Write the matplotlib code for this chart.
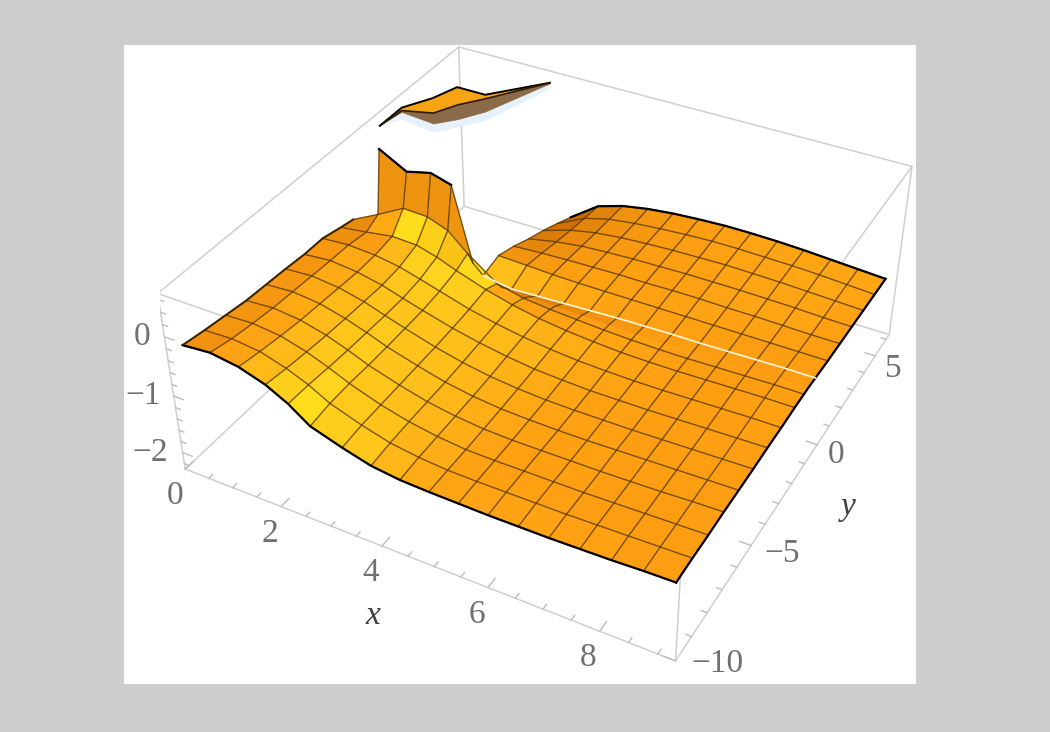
import numpy as np
import matplotlib
matplotlib.use('Agg')
import matplotlib.pyplot as plt
from matplotlib.colors import LinearSegmentedColormap
from matplotlib.patches import Rectangle
from mpl_toolkits.mplot3d import proj3d

nan = float('nan')

# values
x_nodes = [0.15, 0.71, 1.27, 1.78, 2.2, 2.6, 3.2, 3.74, 4.28, 4.82, 5.36, 5.9, 6.44, 6.98, 7.52, 8.06, 8.6, 9.14]
y_nodes = [-9.6, -8.6, -7.6, -6.6, -5.6, -4.6, -3.6, -2.6, -1.6, -0.9, -0.6, 0, 1, 2, 3, 4, 5, 6]
z_rows = [
    [-0.22, -0.18, -0.25, -0.39, -0.58, -0.83, -1.00, -1.13, -1.19, -1.21, -1.22, -1.23, -1.23, -1.23, -1.22, -1.21, -1.19, -1.18],
    [-0.28, -0.26, -0.31, -0.44, -0.59, -0.78, -0.96, -1.09, -1.16, -1.20, -1.21, -1.21, -1.21, -1.21, -1.20, -1.19, -1.18, -1.17],
    [-0.33, -0.31, -0.36, -0.48, -0.62, -0.77, -0.95, -1.07, -1.15, -1.20, -1.21, -1.21, -1.21, -1.21, -1.20, -1.19, -1.18, -1.17],
    [-0.38, -0.35, -0.40, -0.51, -0.64, -0.78, -0.94, -1.06, -1.14, -1.19, -1.21, -1.21, -1.21, -1.21, -1.20, -1.19, -1.17, -1.16],
    [-0.40, -0.37, -0.42, -0.53, -0.65, -0.78, -0.93, -1.05, -1.13, -1.18, -1.20, -1.21, -1.21, -1.20, -1.19, -1.18, -1.17, -1.16],
    [-0.42, -0.39, -0.44, -0.54, -0.66, -0.77, -0.92, -1.03, -1.11, -1.16, -1.19, -1.20, -1.20, -1.20, -1.19, -1.18, -1.17, -1.16],
    [-0.45, -0.41, -0.46, -0.55, -0.66, -0.76, -0.90, -1.00, -1.08, -1.14, -1.17, -1.19, -1.19, -1.19, -1.18, -1.17, -1.16, -1.15],
    [-0.45, -0.42, -0.45, -0.52, -0.62, -0.72, -0.87, -0.97, -1.05, -1.11, -1.15, -1.17, -1.18, -1.18, -1.17, -1.16, -1.15, -1.15],
    [-0.53, -0.47, -0.40, -0.42, -0.52, -0.65, -0.82, -0.94, -1.03, -1.09, -1.13, -1.16, -1.17, -1.17, -1.16, -1.15, -1.14, -1.14],
    [-0.58, -0.35, -0.10, -0.12, -0.25, -0.55, -0.92, -1.03, -1.08, -1.11, -1.14, -1.16, -1.17, -1.17, -1.16, -1.15, -1.14, -1.14],
    [nan, 0.70, 0.45, 0.55, 0.45, -0.80, -1.08, -1.10, -1.12, -1.13, -1.15, -1.16, -1.17, -1.17, -1.16, -1.15, -1.14, -1.14],
    [nan, nan, nan, nan, nan, -1.20, -1.28, -1.26, -1.24, -1.22, -1.20, -1.19, -1.18, -1.18, -1.17, -1.16, -1.15, -1.15],
    [nan, nan, nan, nan, nan, -1.12, -1.14, -1.16, -1.17, -1.17, -1.17, -1.17, -1.17, -1.17, -1.17, -1.17, -1.17, -1.17],
    [nan, nan, nan, nan, nan, -1.23, -1.20, -1.18, -1.17, -1.16, -1.16, -1.15, -1.15, -1.16, -1.16, -1.17, -1.18, -1.18],
    [nan, nan, nan, nan, nan, -1.37, -1.27, -1.21, -1.18, -1.16, -1.15, -1.14, -1.14, -1.14, -1.15, -1.16, -1.18, -1.19],
    [nan, nan, nan, nan, nan, -1.49, -1.33, -1.24, -1.19, -1.16, -1.14, -1.13, -1.12, -1.13, -1.14, -1.16, -1.18, -1.20],
    [nan, nan, nan, nan, nan, -1.63, -1.38, -1.26, -1.20, -1.16, -1.13, -1.11, -1.11, -1.12, -1.13, -1.15, -1.18, -1.21],
    [nan, nan, nan, nan, nan, -1.78, -1.42, -1.28, -1.20, -1.15, -1.12, -1.10, -1.10, -1.11, -1.13, -1.16, -1.19, -1.22],
]

# floating piece near the top of the box
frag_x = [0.28, 0.28, 0.6, 0.79, 1.4, 2.25]
frag_y = [0.6, 1.9, 2.9, 3.9, 3.9, 5.6]
frag_top = [0.7, 0.7, 0.7, 0.7, 0.7, 0.7]
frag_mid = [0.7, 0.65, 0.44, 0.39, 0.63, 0.7]
frag_low = [0.7, 0.62, 0.25, 0.13, 0.4, 0.68]
frag_glow = [0.7, 0.5, 0.1, 0.0, 0.25, 0.6]

x_ticks = [0, 2, 4, 6, 8]
y_ticks = [-10, -5, 0, 5]
z_ticks = [-2, -1, 0]
x_lim = (0, 9.3)
y_lim = (-10, 6.3)
z_lim = (-2.3, 0.7)

fig = plt.figure(figsize=(10.5, 7.32), dpi=100, facecolor='#cdcdcd')
fig.add_artist(Rectangle((124 / 1050, 1 - 684 / 732), 792 / 1050, 639 / 732,
                         transform=fig.transFigure, facecolor='white', edgecolor='none', zorder=-1))

# camera fitted to the box corners
ax = fig.add_axes([160.4 / 1050, 23.15 / 732, 765.7 / 1050, 765.7 / 732], projection='3d')
ax.set_axis_off()
ax.set_facecolor('none')
ax.computed_zorder = False
ax.set_xlim(*x_lim)
ax.set_ylim(*y_lim)
ax.set_zlim(*z_lim)
ax.view_init(36.43, -61.604)
ax.set_proj_type('persp', focal_length=0.445)
ax.set_box_aspect((0.939, 0.948, 0.375))

# box
box_color = '#cfcfcf'
for z in z_lim:
    ax.plot([x_lim[0], x_lim[1], x_lim[1], x_lim[0], x_lim[0]],
            [y_lim[0], y_lim[0], y_lim[1], y_lim[1], y_lim[0]], [z] * 5,
            color=box_color, lw=1.1, zorder=1)
for x in x_lim:
    for y in y_lim:
        ax.plot([x, x], [y, y], z_lim, color=box_color, lw=1.1, zorder=1)

# surface, each cell coloured from its slope
X, Y = np.meshgrid(x_nodes, y_nodes)
Z = np.array(z_rows)
dx = np.diff(x_nodes)[None, :]
dy = np.diff(y_nodes)[:, None]
gx = (Z[:-1, 1:] - Z[:-1, :-1] + Z[1:, 1:] - Z[1:, :-1]) / 2 / dx
gy = (Z[1:, :-1] - Z[:-1, :-1] + Z[1:, 1:] - Z[:-1, 1:]) / 2 / dy
shade = (-gx * 0.7 + gy * 0.85) / np.sqrt(gx ** 2 + gy ** 2 + 1)
cmap = LinearSegmentedColormap.from_list('mma', [
    (0.0, '#c96a04'), (0.35, '#ffa013'), (0.62, '#ffd51f'), (0.78, '#ffe21a'), (1.0, '#ee9410')])
face = cmap(np.clip(np.nan_to_num(shade) + 0.35, 0, 1))
face[np.isnan(shade), 3] = 0
surf = ax.plot_surface(X, Y, Z, rstride=1, cstride=1, facecolors=face, shade=False, zorder=2)
surf.set_linewidth(0.4)

# mesh lines; the two extra rows near the spike stop where the surface goes flat
mesh_color = (0.30, 0.20, 0.0, 0.75)
for j in range(len(x_nodes)):
    ax.plot(X[:, j], Y[:, j], Z[:, j], color=mesh_color, lw=1.0, zorder=3)
for i in range(len(y_nodes)):
    end = 6 if i == 10 else len(x_nodes)
    if i != 11:
        ax.plot(X[i, :end], Y[i, :end], Z[i, :end], color=mesh_color, lw=1.0, zorder=3)

# black outline
ax.plot(X[0], Y[0], Z[0], color='black', lw=1.6, zorder=4)
ax.plot(X[-1], Y[-1], Z[-1], color='black', lw=1.6, zorder=4)
ax.plot(X[:, -1], Y[:, -1], Z[:, -1], color='black', lw=1.6, zorder=4)
ax.plot(X[:10, 0], Y[:10, 0], Z[:10, 0], color='#3a2400', lw=1.4, zorder=4)
ax.plot(X[10, 1:5], Y[10, 1:5], Z[10, 1:5], color='black', lw=1.6, zorder=4)
# white seam at y = 0
ax.plot(X[11, 5:], Y[11, 5:], Z[11, 5:], color='#fff4d8', lw=1.2, zorder=4)

# floating piece
fx = np.array([frag_x, frag_x])
fy = np.array([frag_y, frag_y])
ax.plot_surface(fx, fy, np.array([frag_low, frag_glow]), color='#e6f1fb', edgecolor='#e6f1fb', lw=0.5, shade=False, zorder=2)
ax.plot_surface(fx, fy, np.array([frag_mid, frag_low]), color='#8a6a48', edgecolor='#8a6a48', lw=0.5, shade=False, zorder=3)
ax.plot_surface(fx, fy, np.array([frag_top, frag_mid]), color='#f7a414', edgecolor='#f7a414', lw=0.5, shade=False, zorder=3)
ax.plot(frag_x, frag_y, frag_top, color='black', lw=1.4, zorder=4)
ax.plot(frag_x, frag_y, frag_mid, color='#2a1a00', lw=1.2, zorder=4)


def pixel(x, y, z):
    u, v, _ = proj3d.proj_transform(x, y, z, ax.get_proj())
    return u, v


def label(x, y, z, text, dx, dy, **kw):
    kw.setdefault('color', '#707070')
    kw.setdefault('family', 'Liberation Serif')
    kw.setdefault('fontsize', 24)
    ax.annotate(text, pixel(x, y, z), xytext=(dx, dy), textcoords='offset pixels',
                annotation_clip=False, **kw)


tick_color = '#bdbdbd'
# ticks
for x in np.arange(0, 9.01, 0.5):
    size = 0.4 if x % 2 == 0 else 0.2
    ax.plot([x, x], [y_lim[0], y_lim[0] + size], [z_lim[0]] * 2, color=tick_color, lw=1, zorder=1)
for y in np.arange(-10, 6.01, 1):
    size = 0.2 if y % 5 == 0 else 0.1
    ax.plot([x_lim[1], x_lim[1] - size], [y, y], [z_lim[0]] * 2, color=tick_color, lw=1, zorder=1)
for z in np.arange(-2.2, 0.61, 0.2):
    size = 0.2 if abs(z - round(z)) < 0.01 else 0.1
    ax.plot([x_lim[0], x_lim[0] + size], [y_lim[0]] * 2, [z, z], color=tick_color, lw=1, zorder=1)

for v, dx in zip(x_ticks, [-10, -11, -11, -11, -12]):
    label(v, y_lim[0], z_lim[0], str(v), dx, -27, ha='center', va='center')
for v, dx, dy in zip(y_ticks, [16, 13, 11, 10], [-3, -8, -10, -13]):
    label(x_lim[1], v, z_lim[0], str(v).replace('-', '\u2212'), dx, dy, ha='left', va='center')
for v, dx in zip(z_ticks, [-15, -13, -14]):
    label(x_lim[0], y_lim[0], v, str(v).replace('-', '\u2212'), dx, 0, ha='right', va='center')

label(4, y_lim[0], z_lim[0], 'x', -9, -70, ha='center', va='center', style='italic', color='#404040')
label(x_lim[1], 0, z_lim[0], 'y', 31, -62, ha='center', va='center', style='italic', color='#404040')

fig.savefig('out.png', dpi=100, facecolor=fig.get_facecolor())
